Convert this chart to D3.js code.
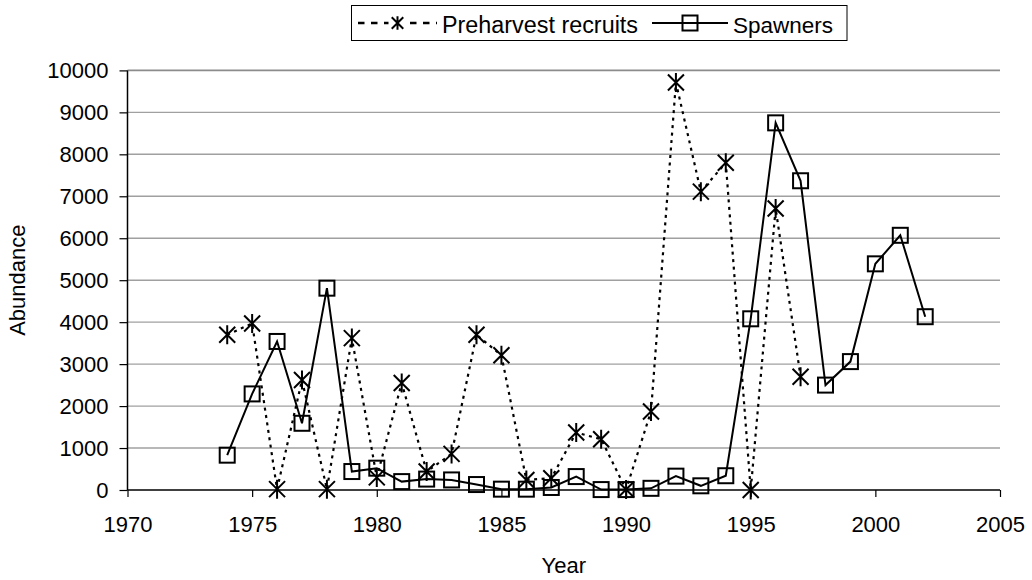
<!DOCTYPE html>
<html>
<head>
<meta charset="utf-8">
<script src="https://cdn.jsdelivr.net/npm/d3@7"></script>
<style>
  html, body { margin: 0; padding: 0; background: #fff; }
  svg { display: block; font-family: "Liberation Sans", Arial, sans-serif; }
</style>
</head>
<body>
<svg id="chart" width="1032" height="580"></svg>
<script>
// Abundance series by year
const recruitYears = [1974, 1975, 1976, 1977, 1978, 1979, 1980, 1981, 1982, 1983, 1984, 1985,
  1986, 1987, 1988, 1989, 1990, 1991, 1992, 1993, 1994, 1995, 1996, 1997];
const recruitValues = [3700, 3970, 20, 2620, 20, 3620, 300, 2550, 440, 860, 3700, 3210,
  240, 280, 1370, 1210, 10, 1870, 9710, 7110, 7800, 0, 6710, 2700];

const spawnerYears = [1974, 1975, 1976, 1977, 1978, 1979, 1980, 1981, 1982, 1983, 1984, 1985,
  1986, 1987, 1988, 1989, 1990, 1991, 1992, 1993, 1994, 1995, 1996, 1997, 1998, 1999, 2000,
  2001, 2002];
const spawnerValues = [830, 2290, 3540, 1590, 4810, 440, 520, 200, 260, 240, 130, 20,
  20, 60, 320, 10, 10, 40, 330, 100, 340, 4080, 8750, 7370, 2500, 3060, 5390,
  6070, 4130];

const xTicks = [1970, 1975, 1980, 1985, 1990, 1995, 2000, 2005];
const yTicks = [0, 1000, 2000, 3000, 4000, 5000, 6000, 7000, 8000, 9000, 10000];

const seriesNames = ["Preharvest recruits", "Spawners"];
const xTitle = "Year";
const yTitle = "Abundance";

const svg = d3.select("#chart");
const plotLeft = 127.5, plotRight = 1000, plotTop = 70.4, plotBottom = 490;
const x = d3.scaleLinear().domain([1970, 2005]).range([plotLeft, plotRight]);
const y = d3.scaleLinear().domain([0, 10000]).range([plotBottom, plotTop]);

const font = 22;

// horizontal gridlines
svg.append("g")
  .selectAll("line")
  .data(yTicks.filter(d => d > 0))
  .join("line")
  .attr("x1", plotLeft).attr("x2", plotRight)
  .attr("y1", d => y(d)).attr("y2", d => y(d))
  .attr("stroke", d => d === 10000 ? "#8c8c8c" : "#a0a0a0")
  .attr("stroke-width", d => d === 10000 ? 1.8 : 1.4);

// axes
const xAxis = svg.append("g")
  .attr("transform", `translate(0,${plotBottom})`)
  .call(d3.axisBottom(x).tickValues(xTicks).tickFormat(d3.format("d")).tickSize(7).tickPadding(19));
const yAxis = svg.append("g")
  .attr("transform", `translate(${plotLeft},0)`)
  .call(d3.axisLeft(y).tickValues(yTicks).tickFormat(d3.format("d")).tickSize(8).tickPadding(11));

[xAxis, yAxis].forEach(g => {
  g.select(".domain").attr("stroke", "#000").attr("stroke-width", 1.5);
  g.selectAll(".tick line").attr("stroke", "#000").attr("stroke-width", 1.2);
  g.selectAll(".tick text")
    .attr("fill", "#000")
    .style("font-size", font + "px")
    .style("font-family", "'Liberation Sans', Arial, sans-serif");
});
xAxis.select(".domain").attr("d", `M${plotLeft},0H${plotRight}`);
yAxis.select(".domain").attr("d", `M0,${plotBottom}V${plotTop}`);

// axis titles
svg.append("text")
  .attr("x", (plotLeft + plotRight) / 2)
  .attr("y", 573)
  .attr("text-anchor", "middle")
  .style("font-size", font + "px")
  .text(xTitle);
svg.append("text")
  .attr("transform", `translate(25,${(plotTop + plotBottom) / 2}) rotate(-90)`)
  .attr("text-anchor", "middle")
  .style("font-size", font + "px")
  .text(yTitle);

// marker shapes
function starPath(g, s = 1) {
  g.append("path")
    .attr("d", `M${-8 * s},${-8 * s}L${8 * s},${8 * s}M${-8 * s},${8 * s}L${8 * s},${-8 * s}M0,${-9.5 * s}V${9.5 * s}`)
    .attr("stroke", "#000")
    .attr("stroke-width", 2)
    .attr("fill", "none");
}
function squarePath(g) {
  g.append("rect")
    .attr("x", -7.5).attr("y", -7.5)
    .attr("width", 15).attr("height", 15)
    .attr("fill", "none")
    .attr("stroke", "#000")
    .attr("stroke-width", 2);
}

const recruits = recruitYears.map((yr, i) => ({ yr, v: recruitValues[i] }));
const spawners = spawnerYears.map((yr, i) => ({ yr, v: spawnerValues[i] }));
const line = d3.line().x(d => x(d.yr)).y(d => y(d.v));

// recruits: dotted line with asterisk markers
svg.append("path")
  .datum(recruits)
  .attr("d", line)
  .attr("fill", "none")
  .attr("stroke", "#000")
  .attr("stroke-width", 2.2)
  .attr("stroke-dasharray", "3,4.5");
svg.append("g")
  .selectAll("g")
  .data(recruits)
  .join("g")
  .attr("transform", d => `translate(${x(d.yr)},${y(d.v)})`)
  .each(function () { starPath(d3.select(this)); });

// spawners: solid line with square markers
svg.append("path")
  .datum(spawners)
  .attr("d", line)
  .attr("fill", "none")
  .attr("stroke", "#000")
  .attr("stroke-width", 2);
svg.append("g")
  .selectAll("g")
  .data(spawners)
  .join("g")
  .attr("transform", d => `translate(${x(d.yr)},${y(d.v)})`)
  .each(function () { squarePath(d3.select(this)); });

// legend
const legend = svg.append("g");
legend.append("rect")
  .attr("x", 351.5).attr("y", 5.5)
  .attr("width", 495.5).attr("height", 35)
  .attr("fill", "#fff")
  .attr("stroke", "#000")
  .attr("stroke-width", 1);
const ly = 23;
legend.append("line")
  .attr("x1", 358).attr("x2", 437).attr("y1", ly).attr("y2", ly)
  .attr("stroke", "#000").attr("stroke-width", 2.5)
  .attr("stroke-dasharray", "6.5,6.5");
legend.append("g").attr("transform", `translate(397.5,${ly})`)
  .call(g => {
    g.append("rect").attr("x", -9).attr("y", -9).attr("width", 18).attr("height", 18).attr("fill", "#fff");
    starPath(g, 0.72);
  });
legend.append("text")
  .attr("x", 442).attr("y", 33)
  .attr("textLength", 196)
  .attr("lengthAdjust", "spacingAndGlyphs")
  .style("font-size", "23px")
  .text(seriesNames[0]);
legend.append("line")
  .attr("x1", 652).attr("x2", 728).attr("y1", ly).attr("y2", ly)
  .attr("stroke", "#000").attr("stroke-width", 2);
legend.append("g").attr("transform", `translate(690,${ly})`)
  .call(squarePath);
legend.append("text")
  .attr("x", 733).attr("y", 33)
  .style("font-size", "22.5px")
  .text(seriesNames[1]);
</script>
</body>
</html>
